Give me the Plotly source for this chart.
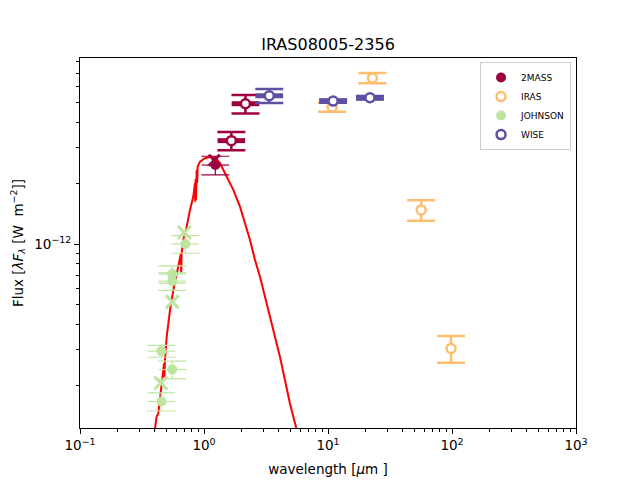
import plotly.graph_objects as go

# photometry (wavelength in micron, lambda F_lambda in W m^-2)
twomass_wl = [1.235, 1.662, 2.159]
twomass_flux = [2.46e-12, 3.25e-12, 4.95e-12]
twomass_err = [0.26e-12, 0.34e-12, 0.52e-12]
twomass_used = [True, False, False]

twomass_x_wl = [1.21]
twomass_x_flux = [2.6e-12]

iras_wl = [10.8, 22.8, 56.4, 98.2]
iras_flux = [4.77e-12, 6.64e-12, 1.475e-12, 3.04e-13]
iras_err = [0.25e-12, 0.38e-12, 0.17e-12, 0.046e-12]

johnson_wl = [0.707, 0.555, 0.555, 0.453, 0.555, 0.453]
johnson_flux = [1.0e-12, 7.1e-13, 6.55e-13, 2.95e-13, 2.39e-13, 1.66e-13]
johnson_err = [0.1e-12, 0.07e-12, 0.065e-12, 0.02e-12, 0.024e-12, 0.017e-12]

johnson_x_wl = [0.694, 0.555, 0.448]
johnson_x_flux = [1.14e-12, 5.17e-13, 2.05e-13]

wise_wl = [3.36, 11.0, 21.8]
wise_flux = [5.42e-12, 5.1e-12, 5.3e-12]
wise_err = [0.43e-12, 0.1e-12, 0.1e-12]

# model spectrum
model_wl = [0.385, 0.403, 0.415, 0.428, 0.448, 0.462, 0.470, 0.476, 0.480, 0.484,
            0.500, 0.532, 0.566, 0.602, 0.640, 0.650, 0.655, 0.660, 0.681, 0.725,
            0.771, 0.820, 0.846, 0.850, 0.856, 0.862, 0.868, 0.873, 0.880, 0.890,
            0.928, 1.019, 1.154, 1.250, 1.346, 1.524, 1.723, 1.951, 2.141, 2.349,
            2.578, 2.829, 3.104, 3.406, 3.737, 4.102, 4.500, 4.937, 5.52, 6.0]
model_flux = [1.0e-13, 1.24e-13, 1.40e-13, 1.445e-13, 1.89e-13, 2.2e-13, 2.45e-13, 2.56e-13, 2.19e-13, 2.65e-13,
              3.47e-13, 4.71e-13, 5.91e-13, 7.16e-13, 8.65e-13, 8.9e-13, 7.2e-13, 9.0e-13, 1.047e-12, 1.218e-12,
              1.475e-12, 1.717e-12, 2.0e-12, 1.62e-12, 2.1e-12, 1.65e-12, 2.25e-12, 2.33e-12, 2.0e-12, 2.42e-12,
              2.56e-12, 2.66e-12, 2.71e-12, 2.65e-12, 2.513e-12, 2.157e-12, 1.853e-12, 1.531e-12, 1.267e-12, 1.047e-12,
              8.33e-13, 6.88e-13, 5.48e-13, 4.36e-13, 3.47e-13, 2.76e-13, 2.115e-13, 1.62e-13, 1.241e-13, 1.0e-13]

x_ticks = [0.1, 1, 10, 100, 1000]
x_ticktext = ["10<sup>\u22121</sup>", "10<sup>0</sup>", "10<sup>1</sup>", "10<sup>2</sup>", "10<sup>3</sup>"]
y_ticks = [1e-12]
y_ticktext = ["10<sup>\u221212</sup>"]

colors = {'2MASS': '#9e0142', 'IRAS': '#fdbe6f', 'JOHNSON': '#bee5a0', 'WISE': '#5e4fa2'}

# constant-width horizontal bars on the log axis
xbar = dict(type='percent', symmetric=False, value=29.2, valueminus=22.6, width=0)

fig = go.Figure()

fig.add_trace(go.Scatter(x=model_wl, y=model_flux, mode='lines', line=dict(color='red', width=2),
                         showlegend=False, hoverinfo='skip'))


def filled(name, wl, flux, err, show=True):
    c = colors[name]
    fig.add_trace(go.Scatter(
        x=wl, y=flux, mode='markers', name=name, showlegend=show,
        marker=dict(symbol='circle', size=10, color=c),
        error_y=dict(type='data', array=err, color=c, thickness=1.2, width=14),
        error_x=dict(xbar, color=c, thickness=1.2),
    ))


def opened(name, wl, flux, err, show=True, thick_x=True):
    c = colors[name]
    ex = dict(xbar, color=c, thickness=5) if thick_x else dict(visible=False)
    fig.add_trace(go.Scatter(
        x=wl, y=flux, mode='markers', name=name, showlegend=show,
        marker=dict(symbol='circle', size=9, color='white', line=dict(color=c, width=2.5)),
        error_y=dict(type='data', array=err, color=c, thickness=2.5, width=14),
        error_x=ex,
    ))


used = [i for i, u in enumerate(twomass_used) if u]
unused = [i for i, u in enumerate(twomass_used) if not u]

fig.add_trace(go.Scatter(x=twomass_x_wl, y=twomass_x_flux, mode='markers', showlegend=False,
                         marker=dict(symbol='x-thin', size=11, line=dict(color=colors['2MASS'], width=3))))
filled('2MASS', [twomass_wl[i] for i in used], [twomass_flux[i] for i in used], [twomass_err[i] for i in used])
opened('2MASS', [twomass_wl[i] for i in unused], [twomass_flux[i] for i in unused],
       [twomass_err[i] for i in unused], show=False)
opened('IRAS', iras_wl, iras_flux, iras_err, thick_x=False)
filled('JOHNSON', johnson_wl, johnson_flux, johnson_err)
fig.add_trace(go.Scatter(x=johnson_x_wl, y=johnson_x_flux, mode='markers', showlegend=False,
                         marker=dict(symbol='x-thin', size=13, line=dict(color=colors['JOHNSON'], width=3))))
opened('WISE', wise_wl, wise_flux, wise_err)

axis_common = dict(showline=True, linecolor='black', linewidth=1, mirror=True, ticks='outside',
                   ticklen=5, tickcolor='black', showgrid=False, zeroline=False, automargin=False,
                   tickfont=dict(size=13.5, color='black'))

x_minor = [m * 10 ** e for e in range(-1, 3) for m in range(2, 10)]
y_minor = [m * 10 ** e for e in (-13, -12) for m in range(1, 10) if m * 10 ** e not in y_ticks]

fig.update_xaxes(type='log', range=[-1, 3], tickvals=x_ticks, ticktext=x_ticktext,
                 title=dict(text="wavelength [<i>\u03bc</i>m ]", font=dict(size=13.5, color='black'), standoff=12),
                 minor=dict(tickvals=x_minor, ticks='outside', ticklen=3, tickcolor='black'),
                 **axis_common)
fig.update_yaxes(type='log', range=[-12.911, -11.079], tickvals=y_ticks, ticktext=y_ticktext,
                 title=dict(text="Flux [<i>\u03bbF</i><sub><i>\u03bb</i></sub> [W  m<sup>\u22122</sup>]]",
                            font=dict(size=13.5, color='black'), standoff=10),
                 minor=dict(tickvals=y_minor, ticks='outside', ticklen=3, tickcolor='black'),
                 **axis_common)

# page body adds an 8px offset, so margins are reduced by 8 on left/top
fig.update_layout(
    width=640, height=480,
    title=dict(text="IRAS08005-2356", x=(328 - 8) / 640, xanchor='center', y=1 - 36 / 480, yanchor='middle',
               font=dict(size=16, color='black')),
    font=dict(family="DejaVu Sans", color='black'),
    plot_bgcolor='white', paper_bgcolor='white',
    margin=dict(l=72, r=72, t=50, b=60),
    legend=dict(x=0.99, xanchor='right', y=0.989, yanchor='top', bgcolor='rgba(255,255,255,0.8)',
                bordercolor='#cccccc', borderwidth=1, font=dict(size=9), tracegroupgap=0,
                itemwidth=30),
)

fig.write_html("out.html")
